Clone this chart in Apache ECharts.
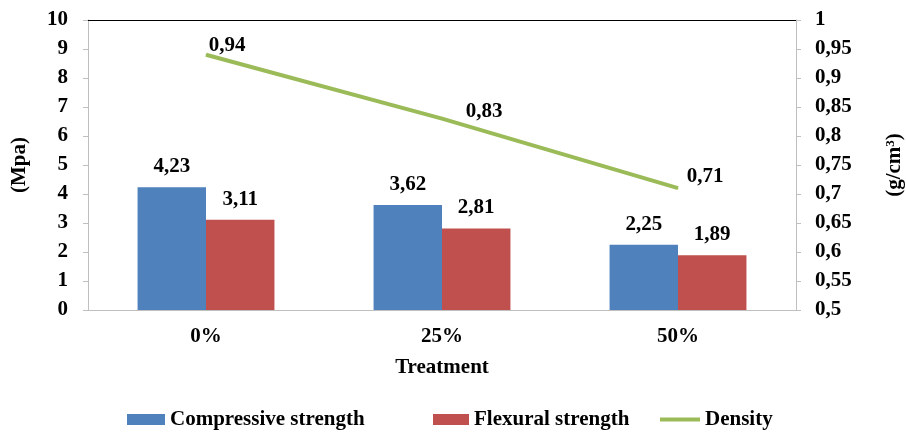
<!DOCTYPE html>
<html>
<head>
<meta charset="utf-8">
<script src="https://cdn.jsdelivr.net/npm/echarts@6/dist/echarts.min.js"></script>
<style>
  html, body { margin: 0; padding: 0; background: #fff; }
  #chart { width: 906px; height: 437px; }
</style>
</head>
<body>
<div id="chart"></div>
<script>
// Treatment groups and measured values
const categories = ['0%', '25%', '50%'];
const compressive = [4.23, 3.62, 2.25];
const flexural = [3.11, 2.81, 1.89];
const density = [0.94, 0.83, 0.71];

// Label nudges for the density line (pixels, relative to default 'top' placement)
const densityLabelOffsets = [[21, 7], [42, 9], [27, 4]];

const FONT = '"Liberation Serif", "Times New Roman", serif';
const FS = 21;
const comma = v => String(v).replace('.', ',');
const textBold = { fontFamily: FONT, fontWeight: 'bold', color: '#000' };

// One legend block per series so each entry sits at its own spot
const legendBlock = (name, icon, left, w) => ({
  left: left,
  bottom: 2,
  itemWidth: w,
  itemHeight: 11,
  itemGap: 0,
  textStyle: Object.assign({ fontSize: FS }, textBold),
  data: [{ name: name, icon: icon }]
});

const chart = echarts.init(document.getElementById('chart'), null, { renderer: 'canvas' });

chart.setOption({
  animation: false,
  backgroundColor: '#fff',
  grid: { left: 88, right: 110, top: 20, bottom: 127, containLabel: false, outerBoundsMode: 'none' },
  legend: [
    legendBlock('Compressive strength', 'rect', 122, 38),
    legendBlock('Flexural strength', 'rect', 428, 36),
    legendBlock('Density', 'path://M0,0 L40,0 L40,4 L0,4 Z', 655, 40)
  ],
  xAxis: [
    {
      type: 'category',
      data: categories,
      name: 'Treatment',
      nameLocation: 'middle',
      nameGap: 47,
      nameTextStyle: Object.assign({ fontSize: FS }, textBold),
      axisLine: { lineStyle: { color: '#BFBFBF', width: 1 } },
      axisTick: { show: false },
      axisLabel: Object.assign({ fontSize: FS, margin: 16 }, textBold)
    },
    {
      type: 'category',
      data: categories,
      position: 'top',
      axisLine: { show: true, lineStyle: { color: '#000', width: 1 } },
      axisTick: { show: false },
      axisLabel: { show: false }
    }
  ],
  yAxis: [
    {
      type: 'value',
      min: 0, max: 10, interval: 1,
      name: '(Mpa)',
      nameLocation: 'middle',
      nameRotate: 90,
      nameGap: 58,
      nameTextStyle: Object.assign({ fontSize: FS }, textBold),
      axisLine: { show: true, lineStyle: { color: '#BFBFBF' } },
      axisTick: { show: true, length: 5, lineStyle: { color: '#BFBFBF' } },
      splitLine: { show: false },
      axisLabel: Object.assign({ fontSize: FS, margin: 20 }, textBold)
    },
    {
      type: 'value',
      min: 0.5, max: 1, interval: 0.05,
      position: 'right',
      name: '(g/cm{sup|3})',
      nameLocation: 'middle',
      nameRotate: 90,
      nameGap: 88,
      nameTextStyle: Object.assign({
        fontSize: FS,
        rich: { sup: Object.assign({ fontSize: 13, padding: [0, 0, 9, 0] }, textBold) }
      }, textBold),
      axisLine: { show: true, lineStyle: { color: '#BFBFBF' } },
      axisTick: { show: true, length: 5, lineStyle: { color: '#BFBFBF' } },
      splitLine: { show: false },
      axisLabel: Object.assign({
        fontSize: FS, margin: 19,
        formatter: v => comma(Math.round(v * 100) / 100)
      }, textBold)
    }
  ],
  series: [
    {
      name: 'Compressive strength',
      type: 'bar',
      data: compressive,
      barGap: '0%',
      barCategoryGap: '42%',
      itemStyle: { color: '#4F81BD' },
      label: Object.assign({ show: true, position: 'top', distance: 10, fontSize: FS,
        formatter: p => comma(p.value) }, textBold)
    },
    {
      name: 'Flexural strength',
      type: 'bar',
      data: flexural,
      itemStyle: { color: '#C0504D' },
      label: Object.assign({ show: true, position: 'top', distance: 10, fontSize: FS,
        formatter: p => comma(p.value) }, textBold)
    },
    {
      name: 'Density',
      type: 'line',
      yAxisIndex: 1,
      data: density.map((v, i) => ({
        value: v,
        label: { offset: densityLabelOffsets[i] }
      })),
      showSymbol: true,
      symbol: 'circle',
      symbolSize: 1,
      lineStyle: { color: '#9BBB59', width: 4 },
      itemStyle: { color: '#9BBB59' },
      label: Object.assign({ show: true, position: 'top', distance: 5, fontSize: FS,
        formatter: p => comma(p.value) }, textBold),
      z: 5
    }
  ]
});
</script>
</body>
</html>
